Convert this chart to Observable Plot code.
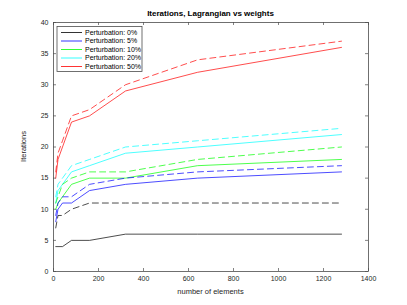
<!DOCTYPE html>
<html>
<head>
<meta charset="utf-8">
<script src="https://cdn.jsdelivr.net/npm/d3@7"></script>
<script src="https://cdn.jsdelivr.net/npm/@observablehq/plot@0.6"></script>
<style>
  html, body { margin: 0; padding: 0; background: #fff; }
  svg { display: block; }
</style>
</head>
<body>
<div id="chart"></div>
<script>
const elements = [10, 20, 40, 80, 160, 320, 640, 1280];
const seriesNames = ["Perturbation: 0%", "Perturbation: 5%", "Perturbation: 10%", "Perturbation: 20%", "Perturbation: 50%"];
const seriesColors = ["#000000", "#0000ff", "#00ff00", "#00ffff", "#ff0000"];
// solid = Lagrangian, dashed = weights
const lagrangian0  = [4, 4, 4, 5, 5, 6, 6, 6];
const weights0     = [7, 9, 9, 10, 11, 11, 11, 11];
const lagrangian5  = [8, 10, 11, 11, 13, 14, 15, 16];
const weights5     = [9, 11, 12, 12, 14, 15, 16, 17];
const lagrangian10 = [10, 11, 12, 14, 15, 15, 17, 18];
const weights10    = [11, 12, 14, 15, 16, 16, 18, 20];
const lagrangian20 = [11, 13, 14, 16, 17, 19, 20, 22];
const weights20    = [12, 14, 15, 17, 18, 20, 21, 23];
const lagrangian50 = [15, 18, 20, 24, 25, 29, 32, 36];
const weights50    = [16, 19, 21, 25, 26, 30, 34, 37];
const xTicks = [0, 200, 400, 600, 800, 1000, 1200, 1400];
const yTicks = [0, 5, 10, 15, 20, 25, 30, 35, 40];
const titleText = "Iterations, Lagrangian vs weights";
const xLabel = "number of elements";
const yLabel = "Iterations";

const solidSets = [lagrangian0, lagrangian5, lagrangian10, lagrangian20, lagrangian50];
const dashedSets = [weights0, weights5, weights10, weights20, weights50];
const toRows = (sets) => sets.flatMap((vals, i) => vals.map((v, j) => ({x: elements[j], y: v, s: seriesNames[i]})));
const solidRows = toRows(solidSets);
const dashedRows = toRows(dashedSets);

const W = 407, H = 305;
const mL = 53, mR = 39, mT = 22, mB = 34;
const fw = W - mL - mR, fh = H - mT - mB;
const axisColor = "#4d4d4d";
const font = "'Liberation Sans', Arial, Helvetica, sans-serif";

const plot = Plot.plot({
  width: W, height: H,
  marginLeft: mL, marginRight: mR, marginTop: mT, marginBottom: mB,
  style: {fontFamily: font, fontSize: "7px", background: "#fff", color: "#262626"},
  x: {domain: [0, 1400]},
  y: {domain: [0, 40]},
  color: {domain: seriesNames, range: seriesColors},
  marks: [
    Plot.frame({stroke: axisColor, strokeWidth: 0.8}),
    Plot.ruleX(xTicks, {x: d => d, insetTop: fh - 3, stroke: axisColor, strokeWidth: 0.7}),
    Plot.ruleX(xTicks, {x: d => d, insetBottom: fh - 3, stroke: axisColor, strokeWidth: 0.7}),
    Plot.ruleY(yTicks, {y: d => d, insetRight: fw - 3, stroke: axisColor, strokeWidth: 0.7}),
    Plot.ruleY(yTicks, {y: d => d, insetLeft: fw - 3, stroke: axisColor, strokeWidth: 0.7}),
    Plot.axisX(xTicks, {tickSize: 0, tickPadding: 5, label: null, fill: "#262626", tickFormat: d => String(d)}),
    Plot.axisY(yTicks, {tickSize: 0, tickPadding: 5, label: null, fill: "#262626", tickFormat: d => String(d)}),
    Plot.line(solidRows, {x: "x", y: "y", z: "s", stroke: "s", strokeWidth: 0.7}),
    Plot.line(dashedRows, {x: "x", y: "y", z: "s", stroke: "s", strokeWidth: 0.7, strokeDasharray: "6,4"})
  ]
});

const svg = d3.select(plot);
const cx = mL + fw / 2;
svg.append("text").attr("x", cx).attr("y", 16).attr("text-anchor", "middle")
  .attr("font-family", font).attr("font-size", 8).attr("font-weight", "bold").attr("fill", "#000")
  .text(titleText);
svg.append("text").attr("x", cx).attr("y", 294).attr("text-anchor", "middle")
  .attr("font-family", font).attr("font-size", 7.5).attr("fill", "#262626")
  .text(xLabel);
svg.append("text").attr("transform", `translate(26,${mT + fh / 2}) rotate(-90)`).attr("text-anchor", "middle")
  .attr("font-family", font).attr("font-size", 7.5).attr("fill", "#262626")
  .text(yLabel);

// legend
const lg = svg.append("g").attr("transform", "translate(57,26.5)");
lg.append("rect").attr("width", 85).attr("height", 45).attr("fill", "#fff")
  .attr("stroke", axisColor).attr("stroke-width", 0.8);
seriesNames.forEach((name, i) => {
  const yy = 6 + i * 8.5;
  lg.append("line").attr("x1", 4).attr("x2", 25).attr("y1", yy).attr("y2", yy)
    .attr("stroke", seriesColors[i]).attr("stroke-width", 0.8);
  lg.append("text").attr("x", 28).attr("y", yy).attr("dy", "0.35em").attr("text-anchor", "start")
    .attr("font-family", font).attr("font-size", 7).attr("fill", "#000").text(name);
});

document.getElementById("chart").appendChild(plot);
</script>
</body>
</html>
